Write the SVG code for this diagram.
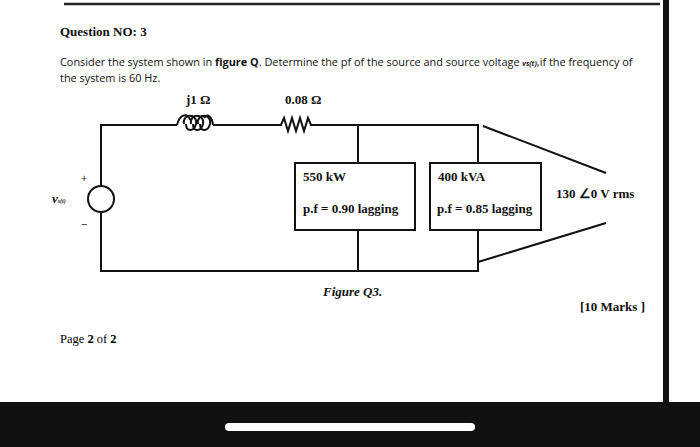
<svg xmlns="http://www.w3.org/2000/svg" width="700" height="447" viewBox="0 0 700 447">
<style>
.w{fill:none;stroke:#111;stroke-width:2}
.t{font-family:"Liberation Serif",serif;font-weight:bold;font-size:13px;fill:#111}
.s{font-family:"Open Sans","Liberation Sans",sans-serif;font-size:10.9px;fill:#111}
</style>
<rect width="700" height="447" fill="#fff"/>
<line x1="64" y1="4" x2="660" y2="4" stroke="#222" stroke-width="2.5"/>
<rect x="663" y="0" width="6" height="402" fill="#111"/>
<rect x="0" y="402" width="700" height="45" fill="#111"/>
<rect x="225" y="423" width="250" height="8" rx="4" fill="#fff"/>
<text x="60" y="36" class="t" font-size="13.5">Question NO: 3</text>
<text x="60" y="66" class="s">Consider the system shown in <tspan font-weight="bold">figure Q</tspan>. Determine the pf of the source and source voltage <tspan font-weight="bold" font-size="7" font-style="italic">vs(t)</tspan>,if the frequency of</text>
<text x="60" y="82" class="s">the system is 60 Hz.</text>
<g id="labels">
<text x="186" y="104" class="t">j1 Ω</text>
<text x="285" y="104" class="t">0.08 Ω</text>
<text x="52" y="203" class="t" font-size="8" font-style="italic" font-weight="normal">v<tspan font-size="6">s(t)</tspan></text>
<text x="81" y="182" class="s" font-size="9">+</text>
<text x="81" y="228" class="s" font-size="9">−</text>
<text x="556" y="198" class="t">130 ∠0 V rms</text>
<text x="323" y="296" class="t" font-style="italic">Figure Q3.</text>
<text x="580" y="311" class="t">[10 Marks ]</text>
<text x="60" y="343" font-family="Liberation Serif,serif" font-size="12.5">Page <tspan font-weight="bold">2</tspan> of <tspan font-weight="bold">2</tspan></text>
</g>
<g id="connectors">
<polyline class="w" points="101,186 101,125 177,125"/>
<polyline class="w" points="101,212 101,271 478,271 478,230"/>
<line class="w" x1="213" y1="125" x2="277" y2="125" stroke-width="1.5"/>
<polyline class="w" points="319,125 478,125 478,163" stroke-width="1.5"/>
<line class="w" x1="358" y1="125" x2="358" y2="163" stroke-width="1.5"/>
<line class="w" x1="358" y1="230" x2="358" y2="271" stroke-width="1.5"/>
<line class="w" x1="483" y1="126" x2="606" y2="173" stroke-width="1.5"/>
<line class="w" x1="478" y1="262" x2="606" y2="223" stroke-width="1.5"/>
</g>
<g id="inductor">
<path class="w" stroke-width="1.5" d="M177,125 C180,113 188,113 190,120 M184,124 C182,113 198,113 196,124 C194,132 186,132 186,124 M191,124 C189,113 205,113 203,124 C201,132 193,132 193,124 M198,124 C196,113 212,113 210,124 C208,132 200,132 200,124 M204,118 C207,113 212,116 213,125"/>
</g>
<g id="resistor">
<polyline class="w" stroke-width="1.5" points="277,125 281,125 284,118 288,131 292,118 296,131 300,118 304,131 308,118 311,125 319,125"/>
</g>
<g id="source"><circle cx="101" cy="199" r="13" class="w"/></g>
<g id="load1">
<rect x="295" y="163" width="120" height="67" class="w" stroke-width="1.5"/>
<text x="303" y="181" class="t">550 kW</text>
<text x="303" y="213" class="t">p.f = 0.90 lagging</text>
</g>
<g id="load2">
<rect x="430" y="163" width="111" height="67" class="w" stroke-width="1.5"/>
<text x="438" y="181" class="t">400 kVA</text>
<text x="437" y="213" class="t">p.f = 0.85 lagging</text>
</g>
</svg>
